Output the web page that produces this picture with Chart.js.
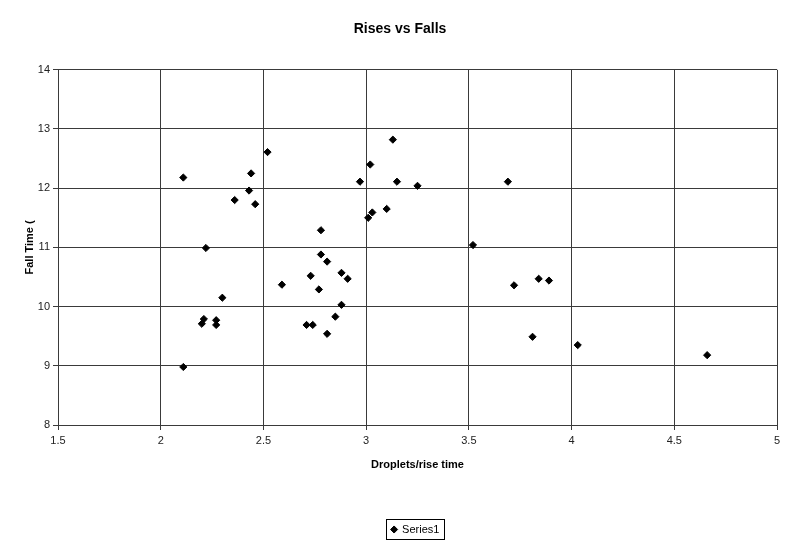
<!DOCTYPE html>
<html>
<head>
<meta charset="utf-8">
<script src="https://cdn.jsdelivr.net/npm/chart.js@4/dist/chart.umd.min.js"></script>
<style>
  html, body { margin: 0; padding: 0; background: #fff; }
  #wrap { width: 800px; height: 547px; }
</style>
</head>
<body>
<div id="wrap"><canvas id="chart"></canvas></div>
<script>
// values
const riseTimes = [2.11, 2.11, 2.20, 2.21, 2.22, 2.27, 2.27, 2.30, 2.36, 2.43, 2.44, 2.46, 2.52,
    2.59, 2.71, 2.74, 2.73, 2.78, 2.78, 2.77, 2.81, 2.81, 2.85, 2.88, 2.88, 2.91,
    2.97, 3.02, 3.01, 3.03, 3.10, 3.13, 3.15, 3.25, 3.52, 3.69, 3.72, 3.81, 3.84, 3.89, 4.03, 4.66];
const fallTimes = [12.18, 8.98, 9.71, 9.79, 10.99, 9.77, 9.69, 10.15, 11.80, 11.96, 12.25, 11.73, 12.61,
    10.37, 9.69, 9.69, 10.52, 11.29, 10.88, 10.29, 10.76, 9.54, 9.83, 10.57, 10.03, 10.47,
    12.11, 12.40, 11.50, 11.59, 11.65, 12.82, 12.11, 12.04, 11.04, 12.11, 10.36, 9.49, 10.47, 10.44, 9.35, 9.18];
const seriesName = 'Series1';
const xTicks = { min: 1.5, max: 5, step: 0.5 };
const yTicks = { min: 8, max: 14, step: 1 };

const font = "'Liberation Sans', Arial, sans-serif";
const points = riseTimes.map((x, i) => ({ x: x, y: fallTimes[i] }));

// title centred on the page, legend under the plot area centre with a thin box round it
const legendBox = {
    id: 'legendBox',
    afterLayout(chart) {
        const tb = chart.titleBlock;
        if (tb) {
            const t = chart.width / 2 - (tb.left + tb.right) / 2;
            tb.left += t;
            tb.right += t;
        }
        const lg = chart.legend;
        if (!lg) return;
        const d = (chart.chartArea.left + chart.chartArea.right) / 2 - (lg.left + lg.right) / 2 - 2;
        lg.left += d;
        lg.right += d;
        lg.legendHitBoxes.forEach(h => { h.left += d; });
    },
    afterDraw(chart) {
        const lg = chart.legend;
        if (!lg || !lg.legendHitBoxes.length) return;
        const hb = lg.legendHitBoxes[0];
        const ctx = chart.ctx;
        ctx.save();
        ctx.strokeStyle = '#000';
        ctx.lineWidth = 1;
        ctx.strokeRect(Math.round(hb.left - 6) + 0.5, Math.round(hb.top - 5) + 0.5,
            Math.round(hb.width + 10), Math.round(hb.height + 9));
        ctx.restore();
    }
};

new Chart(document.getElementById('chart'), {
    type: 'scatter',
    data: {
        datasets: [{
            label: seriesName,
            data: points,
            pointStyle: 'rectRot',
            pointRadius: 3.6,
            pointHoverRadius: 3.6,
            backgroundColor: '#000',
            borderColor: '#000',
            borderWidth: 1
        }]
    },
    options: {
        responsive: true,
        maintainAspectRatio: false,
        animation: false,
        layout: { padding: { left: 0, right: 23, top: 0, bottom: 2 } },
        plugins: {
            title: {
                display: true,
                text: 'Rises vs Falls',
                color: '#000',
                font: { family: font, size: 14, weight: 'bold' },
                padding: { top: 21, bottom: 32 }
            },
            legend: {
                position: 'bottom',
                labels: {
                    usePointStyle: true,
                    pointStyle: 'rectRot',
                    boxWidth: 5,
                    boxHeight: 5,
                    padding: 6,
                    color: '#000',
                    font: { family: font, size: 11 }
                }
            },
            tooltip: { enabled: false }
        },
        scales: {
            x: {
                type: 'linear',
                min: xTicks.min,
                max: xTicks.max,
                afterFit(scale) { scale.height = 93; },
                ticks: {
                    stepSize: xTicks.step,
                    callback: v => String(v),
                    color: '#222',
                    font: { family: font, size: 11 },
                    padding: 4
                },
                grid: { color: '#3a3a3a', lineWidth: 1, tickLength: 5 },
                border: { color: '#3a3a3a' },
                title: {
                    display: true,
                    text: 'Droplets/rise time',
                    color: '#000',
                    font: { family: font, size: 11, weight: 'bold' },
                    padding: { top: 4, bottom: 46 }
                }
            },
            y: {
                min: yTicks.min,
                max: yTicks.max,
                afterFit(scale) { scale.width = 58; },
                ticks: { stepSize: yTicks.step, color: '#222', font: { family: font, size: 11 }, padding: 3 },
                grid: { color: '#3a3a3a', lineWidth: 1, tickLength: 5 },
                border: { color: '#3a3a3a' },
                title: {
                    display: true,
                    text: 'Fall Time (',
                    color: '#000',
                    font: { family: font, size: 11, weight: 'bold' },
                    padding: { top: 23, bottom: 0 }
                }
            }
        }
    },
    plugins: [legendBox]
});
</script>
</body>
</html>
